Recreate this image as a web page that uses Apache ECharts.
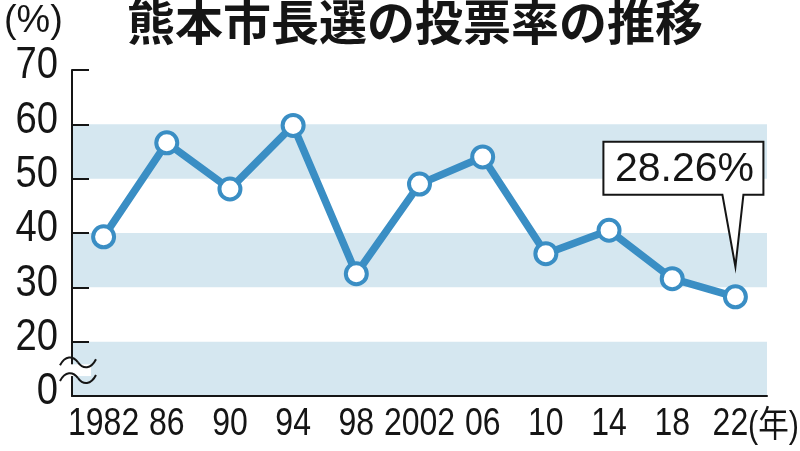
<!DOCTYPE html>
<html>
<head>
<meta charset="utf-8">
<script src="https://cdn.jsdelivr.net/npm/echarts@6/dist/echarts.min.js"></script>
<style>
  html, body { margin: 0; padding: 0; background: #fff; }
  #chart { width: 800px; height: 451px; }
</style>
</head>
<body>
<div id="chart"></div>
<script>
// ---- data ----
const categories = ['1982', '86', '90', '94', '98', '2002', '06', '10', '14', '18', '22'];
const turnout = [39.3, 56.6, 48.1, 59.8, 32.5, 49.0, 54.0, 36.2, 40.5, 31.6, 28.26];
const titleText = '熊本市長選の投票率の推移';
const yUnit = '(%)';
const xUnit = '(年)';
// the axis is broken between 0 and 20: the value 10 sits where "0" is printed
const yTickValues = [10, 20, 30, 40, 50, 60, 70];
const yTickLabels = ['0', '20', '30', '40', '50', '60', '70'];
const yMin = 10, yMax = 70, yStep = 10;

// ---- style ----
const FONT = "'Liberation Sans', Arial, sans-serif";
const INK = '#151515';
const LINE = '#3a8ec4';
const BAND = '#d5e7f0';
const GRID = { left: 72, right: 33, top: 70, bottom: 55 };

const chart = echarts.init(document.getElementById('chart'), null, { renderer: 'canvas' });
const lastIdx = turnout.length - 1;

const option = {
  animation: false,
  backgroundColor: '#fff',
  title: {
    text: titleText,
    left: 122,
    top: -7,
    textStyle: { fontFamily: "'Noto Sans CJK JP', sans-serif", fontWeight: 'bold', fontSize: 48, color: INK }
  },
  grid: GRID,
  xAxis: {
    type: 'category',
    data: categories,
    boundaryGap: true,
    axisLine: { lineStyle: { color: INK, width: 2 } },
    axisTick: { inside: true, alignWithLabel: true, length: 8, lineStyle: { color: INK, width: 2 } },
    axisLabel: { show: false },
    splitLine: { show: false }
  },
  yAxis: {
    type: 'value',
    min: yMin,
    max: yMax,
    interval: yStep,
    axisLine: { show: true, lineStyle: { color: INK, width: 2 } },
    axisTick: { show: true, inside: true, length: 17, lineStyle: { color: INK, width: 2 } },
    axisLabel: { show: false },
    splitLine: { show: false },
    splitArea: { show: true, areaStyle: { color: [BAND, 'rgba(255,255,255,0)'] } }
  },
  series: [{
    type: 'line',
    data: turnout,
    symbol: 'circle',
    symbolSize: 21,
    lineStyle: { color: LINE, width: 7.5 },
    itemStyle: { color: '#fff', borderColor: LINE, borderWidth: 4 },
    z: 3
  }]
};
chart.setOption(option);

// ---- labels and annotations positioned from the axes ----
const yBase = chart.convertToPixel({ yAxisIndex: 0 }, yMin);
const graphics = [];

// y tick labels (condensed look via horizontal scale)
yTickValues.forEach((v, i) => {
  graphics.push({
    type: 'text', z: 60,
    x: GRID.left - 14, y: chart.convertToPixel({ yAxisIndex: 0 }, v) - 4,
    scaleX: 0.85,
    style: { text: yTickLabels[i], font: '45px ' + FONT, fill: INK, align: 'right', verticalAlign: 'middle' }
  });
});
// x category labels
categories.forEach((c, i) => {
  graphics.push({
    type: 'text', z: 60,
    x: chart.convertToPixel({ xAxisIndex: 0 }, i) - (i === lastIdx ? 5 : 0), y: yBase + 28,
    scaleX: 0.82,
    style: { text: c, font: '39px ' + FONT, fill: INK, align: 'center', verticalAlign: 'middle' }
  });
});
// unit labels
graphics.push({
  type: 'text', z: 60, x: 4, y: 21, scaleX: 0.97,
  style: { text: yUnit, font: '39px ' + FONT, fill: INK, verticalAlign: 'middle' }
});
graphics.push({
  type: 'text', z: 60,
  x: chart.getWidth() - GRID.right - 19, y: yBase + 31, scaleX: 0.85,
  style: { text: xUnit, font: "36px 'Liberation Sans', 'Noto Sans CJK JP', sans-serif", fill: INK, verticalAlign: 'middle', align: 'left' }
});

// axis break (two tildes)
const y20 = chart.convertToPixel({ yAxisIndex: 0 }, 20);
const t1 = y20 + 0.38 * (yBase - y20);
const t2 = y20 + 0.67 * (yBase - y20);
const x0 = GRID.left - 12;
graphics.push({
  type: 'rect', z: 50,
  shape: { x: x0 + 5, y: t1 + 2, width: 26, height: t2 - t1 - 4 },
  style: { fill: '#fff' }
});
[t1, t2].forEach(y => {
  graphics.push({ type: 'bezierCurve', z: 51,
    shape: { x1: x0, y1: y + 3, cpx1: x0 + 5, cpy1: y - 7, cpx2: x0 + 13, cpy2: y - 7, x2: x0 + 18, y2: y },
    style: { fill: null, stroke: INK, lineWidth: 2 } });
  graphics.push({ type: 'bezierCurve', z: 51,
    shape: { x1: x0 + 18, y1: y, cpx1: x0 + 23, cpy1: y + 7, cpx2: x0 + 31, cpy2: y + 7, x2: x0 + 36, y2: y - 3 },
    style: { fill: null, stroke: INK, lineWidth: 2 } });
});

// callout for latest value
const [px, py] = chart.convertToPixel({ seriesIndex: 0 }, [lastIdx, turnout[lastIdx]]);
const bL = px - 132, bR = px + 28, bT = py - 155, bB = py - 102;
graphics.push({
  type: 'polygon', z: 60,
  shape: { points: [[bL, bT], [bR, bT], [bR, bB], [px + 8, bB], [px, py - 30], [px - 13, bB], [bL, bB]] },
  style: { fill: '#fff', stroke: INK, lineWidth: 2 }
});
graphics.push({
  type: 'text', z: 61, x: (bL + bR) / 2 + 1, y: (bT + bB) / 2 + 1,
  style: { text: turnout[lastIdx].toFixed(2) + '%', font: '41px ' + FONT, fill: INK, align: 'center', verticalAlign: 'middle' }
});

chart.setOption({ graphic: graphics });
</script>
</body>
</html>
